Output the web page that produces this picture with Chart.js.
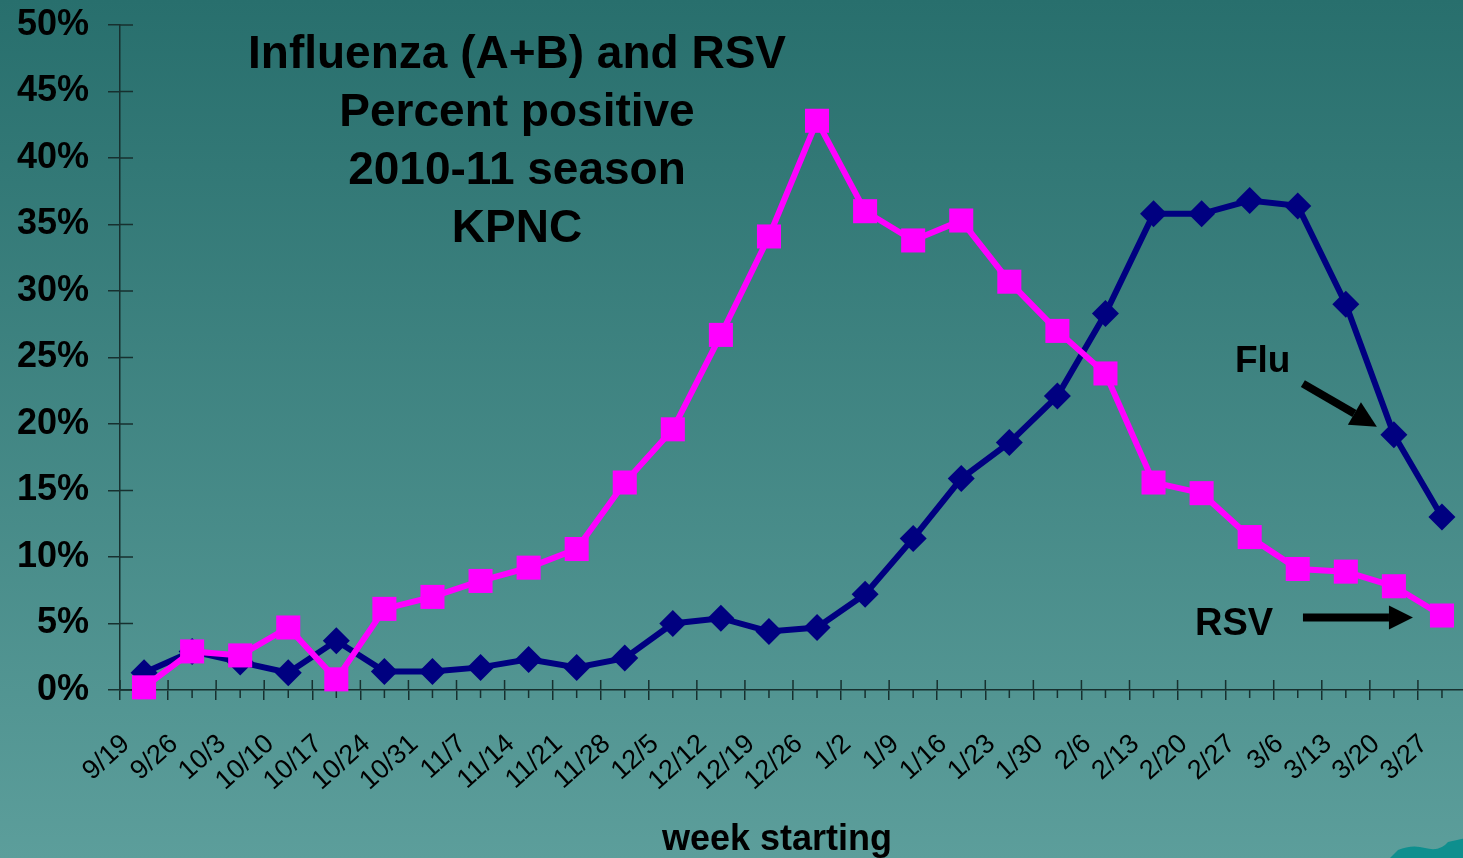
<!DOCTYPE html>
<html><head><meta charset="utf-8">
<script src="https://cdn.jsdelivr.net/npm/chart.js@4.4.1/dist/chart.umd.min.js"></script>
<style>
html,body{margin:0;padding:0;overflow:hidden;width:1463px;height:858px;background:#3f807e}
#wrap{position:absolute;left:0;top:0;width:1466px;height:858px}
canvas{display:block}
</style></head>
<body><div id="wrap"><canvas id="c" width="1466" height="858"></canvas></div>
<script>
// ---- data ----
const weeks = ['9/19','9/26','10/3','10/10','10/17','10/24','10/31','11/7','11/14','11/21','11/28','12/5','12/12','12/19','12/26','1/2','1/9','1/16','1/23','1/30','2/6','2/13','2/20','2/27','3/6','3/13','3/20','3/27'];
const fluPct = [1.3,2.9,2.1,1.3,3.7,1.4,1.4,1.7,2.3,1.7,2.4,5.0,5.4,4.4,4.7,7.2,11.4,15.9,18.6,22.1,28.3,35.8,35.8,36.8,36.4,29.0,19.2,13.0];
const rsvPct = [0.2,2.9,2.6,4.7,0.8,6.1,7.0,8.2,9.2,10.6,15.6,19.6,26.7,34.1,42.8,36.0,33.8,35.3,30.7,27.0,23.8,15.6,14.8,11.5,9.1,8.9,7.8,5.6];
const yMin = 0, yMax = 50, yStep = 5;
const titleLines = ['Influenza (A+B) and RSV','Percent positive','2010-11 season','KPNC'];
const xAxisTitle = 'week starting';
const seriesNames = ['Flu','RSV'];

const AXIS = '#17302f';
const FONT = '"Liberation Sans", Arial, sans-serif';

function arrow(ctx, x1, y1, x2, y2, w, hl, hw){
  const a = Math.atan2(y2 - y1, x2 - x1);
  const bx = x2 - hl * Math.cos(a), by = y2 - hl * Math.sin(a);
  ctx.beginPath();
  ctx.lineWidth = w; ctx.lineCap = 'butt';
  ctx.moveTo(x1, y1); ctx.lineTo(bx, by); ctx.stroke();
  ctx.beginPath();
  ctx.moveTo(x2, y2);
  ctx.lineTo(bx + hw/2 * Math.sin(a), by - hw/2 * Math.cos(a));
  ctx.lineTo(bx - hw/2 * Math.sin(a), by + hw/2 * Math.cos(a));
  ctx.closePath(); ctx.fill();
}

const deco = {
  id: 'deco',
  beforeDraw(chart){
    const {ctx, width, height} = chart;
    const g = ctx.createLinearGradient(0, 0, 0, height);
    g.addColorStop(0, '#286f6d');
    g.addColorStop(1, '#5c9e9b');
    ctx.save(); ctx.fillStyle = g; ctx.fillRect(0, 0, width, height); ctx.restore();
  },
  beforeDatasetsDraw(chart){
    const {ctx} = chart; const x = chart.scales.x, y = chart.scales.y;
    ctx.save(); ctx.strokeStyle = AXIS; ctx.lineWidth = 1.5;
    ctx.beginPath();
    for (let i = 0; i < y.ticks.length; i++){
      const py = y.getPixelForTick(i);
      ctx.moveTo(x.left, py); ctx.lineTo(x.left + 13, py);
    }
    for (let i = 0; i <= weeks.length; i++){
      const px = x.getPixelForValue(i - 0.5);
      ctx.moveTo(px, y.bottom - 10); ctx.lineTo(px, y.bottom);
    }
    for (let i = 0; i < weeks.length; i++){
      const px = x.getPixelForValue(i);
      ctx.moveTo(px, y.bottom); ctx.lineTo(px, y.bottom + 8);
    }
    ctx.stroke(); ctx.restore();
  },
  afterDraw(chart){
    const {ctx} = chart; const x = chart.scales.x, y = chart.scales.y;
    ctx.save();
    ctx.fillStyle = '#000'; ctx.strokeStyle = '#000';
    // title block
    ctx.font = 'bold 46px ' + FONT; ctx.textAlign = 'center'; ctx.textBaseline = 'alphabetic';
    titleLines.forEach((t, i) => ctx.fillText(t, 517, 68 + i * 58));
    // axis title
    ctx.font = 'bold 36px ' + FONT;
    ctx.fillText(xAxisTitle, 777, 850);
    // series annotations anchored to data points
    const fi = 26, ri = weeks.length - 1;
    const fx = x.getPixelForValue(fi), fy = y.getPixelForValue(fluPct[fi]);
    const rx = x.getPixelForValue(ri), ry = y.getPixelForValue(rsvPct[ri]);
    ctx.textAlign = 'left';
    ctx.font = 'bold 37px ' + FONT;
    ctx.fillText(seriesNames[0], fx - 159, fy - 63);
    ctx.font = 'bold 38px ' + FONT;
    ctx.fillText(seriesNames[1], rx - 247, ry + 19);
    arrow(ctx, fx - 91, fy - 51, fx - 17, fy - 8, 8, 26, 26);
    arrow(ctx, rx - 139, ry + 2, rx - 29, ry + 2, 8, 24, 24);
    // template corner decoration
    ctx.fillStyle = '#0e8f8e';
    ctx.beginPath();
    ctx.moveTo(1390, 858); ctx.lineTo(1398, 850); ctx.quadraticCurveTo(1412, 844, 1425, 848);
    ctx.quadraticCurveTo(1440, 852, 1448, 842); ctx.lineTo(1466, 838); ctx.lineTo(1466, 858); ctx.closePath();
    ctx.fill();
    ctx.restore();
  }
};

function noPad(s){ s.paddingLeft = 0; s.paddingRight = 0; s.paddingTop = 0; s.paddingBottom = 0; }

new Chart(document.getElementById('c'), {
  type: 'line',
  data: {
    labels: weeks,
    datasets: [
      { label: seriesNames[1], data: rsvPct, order: 1,
        borderColor: '#ff00ff', backgroundColor: '#ff00ff', borderWidth: 6,
        pointStyle: 'rect', pointRadius: 17, pointBorderWidth: 0, pointBackgroundColor: '#ff00ff',
        tension: 0, fill: false, clip: false },
      { label: seriesNames[0], data: fluPct, order: 2,
        borderColor: '#000080', backgroundColor: '#000080', borderWidth: 6,
        pointStyle: 'rectRot', pointRadius: 13.5, pointBorderWidth: 0, pointBackgroundColor: '#000080',
        tension: 0, fill: false, clip: false }
    ]
  },
  options: {
    responsive: false, animation: false, devicePixelRatio: 1,
    layout: { autoPadding: false, padding: { top: 25, left: 0, right: 0, bottom: 0 } },
    plugins: { legend: { display: false }, tooltip: { enabled: false }, title: { display: false } },
    scales: {
      x: {
        type: 'category', offset: true,
        grid: { offset: true, drawOnChartArea: false, color: AXIS, lineWidth: 1.5, tickLength: 10, tickColor: AXIS },
        border: { color: AXIS, width: 1.5 },
        ticks: { color: '#000', font: { family: FONT, size: 27 }, minRotation: 42, maxRotation: 42,
                 autoSkip: false, padding: 28, labelOffset: -18 },
        afterFit(s){ s.height = 168; noPad(s); }
      },
      y: {
        min: yMin, max: yMax,
        grid: { drawOnChartArea: false, color: AXIS, lineWidth: 1.5, tickLength: 12, tickColor: AXIS },
        border: { color: AXIS, width: 1.5 },
        ticks: { stepSize: yStep, color: '#000', font: { family: FONT, size: 36, weight: 'bold' }, padding: 19,
                 callback: v => v + '%' },
        afterFit(s){ s.width = 120; noPad(s); }
      }
    }
  },
  plugins: [deco]
});
</script>
</body></html>
